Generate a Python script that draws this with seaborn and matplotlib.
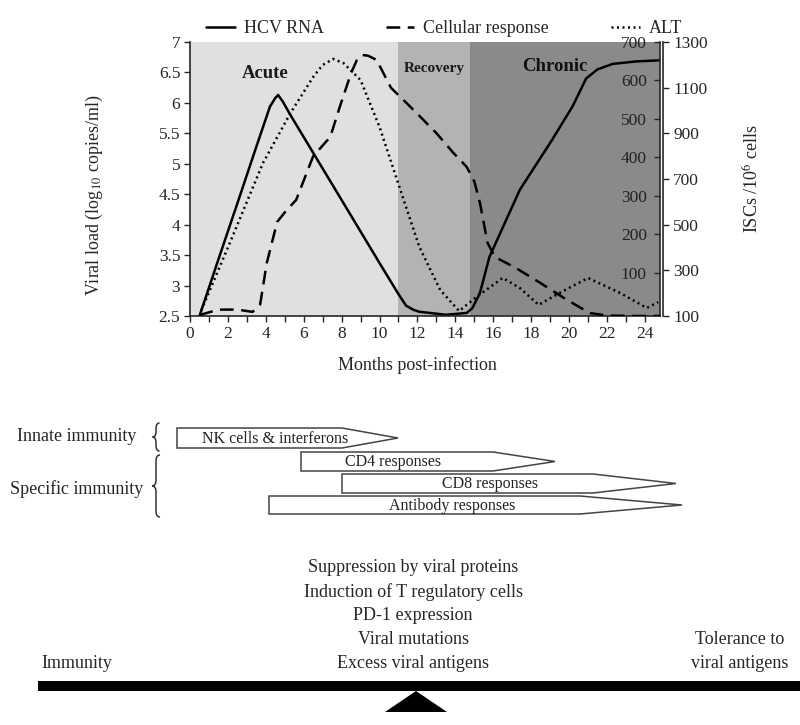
import matplotlib
matplotlib.use("Agg")
import matplotlib.pyplot as plt
from matplotlib.patches import Polygon, Rectangle, PathPatch
from matplotlib.path import Path
from matplotlib.ticker import MultipleLocator
import seaborn as sns

# ---- 数据 ----
# HCV RNA, 左轴 log10 copies/ml
hcv_months = [0.5, 1.5, 2.5, 3.5, 4.22, 4.5, 4.65, 4.9, 5.3, 6.5, 8.3, 10.0, 11.0, 11.4,
              11.8, 12.1, 13.5, 14.6, 14.9, 15.3, 15.8, 17.4, 19.1, 20.2, 20.9, 21.5,
              22.3, 23.5, 24.8]
hcv_load = [2.5, 3.43, 4.35, 5.28, 5.94, 6.08, 6.13, 6.02, 5.80, 5.18, 4.25, 3.37, 2.86, 2.67,
            2.60, 2.57, 2.52, 2.55, 2.63, 2.88, 3.47, 4.57, 5.39, 5.95, 6.40, 6.55,
            6.64, 6.68, 6.70]

# Cellular response, 外侧右轴 ISCs /10^6 cells
cell_months = [0.5, 1.5, 2.5, 3.3, 3.7, 4.05, 4.6, 5.1, 5.6, 6.5, 7.4, 7.9, 8.5,
               8.8, 9.1, 9.4, 9.85, 10.6, 11.8, 13.0, 13.9, 14.6, 15.0, 15.3, 15.7,
               16.1, 17.2, 18.5, 19.9, 21.1, 22.0, 23.5, 24.8]
cell_iscs = [104, 128, 128, 118, 150, 332, 512, 564, 608, 800, 884, 1015, 1164,
             1220, 1243, 1240, 1221, 1100, 1002, 901, 814, 753, 690, 595, 420,
             358, 310, 244, 170, 113, 102, 100, 100]

# ALT, 内侧右轴
alt_months = [0.6, 2.1, 3.85, 5.3, 6.5, 7.0, 7.55, 8.1, 9.0, 10.0, 11.1, 12.1, 13.2,
              14.2, 15.1, 16.5, 17.4, 18.4, 19.5, 21.0, 22.7, 24.1, 24.7]
alt_level = [2, 177, 385, 515, 609, 640, 656, 645, 601, 479, 315, 167, 55,
             0, 36, 86, 60, 16, 47, 86, 47, 8, 23]

phase_names = ["Acute", "Recovery", "Chronic"]
phase_start = [0, 11, 14.8]
phase_end = [11, 14.8, 24.8]
phase_colors = ["#e0e0e0", "#b3b3b3", "#8a8a8a"]

left_ticks = [2.5, 3, 3.5, 4, 4.5, 5, 5.5, 6, 6.5, 7]
left_tick_labels = ["2.5", "3", "3.5", "4", "4.5", "5", "5.5", "6", "6.5", "7"]
alt_ticks = [100, 200, 300, 400, 500, 600, 700]
iscs_ticks = [100, 300, 500, 700, 900, 1100, 1300]
month_ticks = list(range(0, 25, 2))

# 免疫反应箭头 (示意图坐标, 像素)
immune_labels = ["NK cells & interferons", "CD4 responses", "CD8 responses", "Antibody responses"]
arrow_start = [177, 301, 342, 269]
arrow_body_end = [342, 493, 593, 580]
arrow_tip = [398, 555, 676, 682]
row_top = [428, 452, 474, 496]
row_bottom = [448, 471, 493, 514]
label_x = [275, 393, 490, 452]

factors = ["Suppression by viral proteins", "Induction of T regulatory cells",
           "PD-1 expression", "Viral mutations", "Excess viral antigens"]

# ---- 样式 ----
sns.set_theme(style="ticks")
plt.rcParams["font.family"] = ["Liberation Serif", "DejaVu Serif"]
plt.rcParams["mathtext.fontset"] = "stix"
plt.rcParams["axes.linewidth"] = 1.2

fig = plt.figure(figsize=(8, 7.25), dpi=100)
W, H = 800, 725
ax = fig.add_axes([190 / W, 1 - 316 / H, 470 / W, 274 / H])
ax2 = ax.twinx()
ax3 = ax.twinx()

# 背景阶段
for name, s, e, c in zip(phase_names, phase_start, phase_end, phase_colors):
    ax.axvspan(s, e, color=c, lw=0, zorder=0)
ax.text(3.95, 6.49, "Acute", ha="center", va="center", fontsize=13.5, fontweight="bold", color="#1a1a1a")
ax.text(12.9, 6.56, "Recovery", ha="center", va="center", fontsize=11, fontweight="bold", color="#1a1a1a")
ax.text(19.25, 6.6, "Chronic", ha="center", va="center", fontsize=13.5, fontweight="bold", color="#111111")

sns.lineplot(x=hcv_months, y=hcv_load, ax=ax, color="black", lw=1.8, label="HCV RNA")
sns.lineplot(x=cell_months, y=cell_iscs, ax=ax3, color="black", lw=1.8,
             linestyle=(0, (5.5, 3)), label="Cellular response")
sns.lineplot(x=alt_months, y=alt_level, ax=ax2, color="black", lw=1.8,
             linestyle=(0, (0.8, 1.4)), label="ALT")

handles, labels = [], []
for a in (ax, ax3, ax2):
    h, l = a.get_legend_handles_labels()
    handles += h
    labels += l
    if a.get_legend() is not None:
        a.get_legend().remove()

fig.legend(handles, labels, loc="upper left", bbox_to_anchor=(190 / W, 1 - 4 / H),
           ncol=3, frameon=False, fontsize=13, handlelength=1.6,
           handletextpad=0.5, columnspacing=3.4)

# 左轴
ax.set_xlim(0, 24.8)
ax.set_ylim(2.5, 7)
ax.set_xticks(month_ticks)
ax.xaxis.set_minor_locator(MultipleLocator(1))
ax.set_yticks(left_ticks)
ax.set_yticklabels(left_tick_labels)
ax.tick_params(axis="both", which="both", direction="out", length=4, width=1, labelsize=12.5, pad=3)
ax.set_xlabel("Months post-infection", fontsize=13)
ax.xaxis.set_label_coords(0.483, -0.145)
ax.set_ylabel("Viral load (log$_{10}$ copies/ml)", fontsize=13)
ax.yaxis.set_label_coords(-0.18, 0.44)
ax.spines["top"].set_visible(False)
ax.spines["right"].set_visible(False)

# 内侧右轴 (ALT)
ax2.set_ylim(-13, 700)
ax2.set_yticks(alt_ticks)
ax2.tick_params(axis="y", direction="in", length=4.5, width=1, labelsize=12.5, pad=-9.5)
for t in ax2.get_yticklabels():
    t.set_ha("right")
    t.set_color("#222222")
for sp in ("top", "left", "bottom"):
    ax2.spines[sp].set_visible(False)
ax2.set_ylabel("")

# 外侧右轴 (ISCs)
ax3.set_ylim(100, 1300)
ax3.set_yticks(iscs_ticks)
ax3.spines["right"].set_position(("outward", 2.5))
ax3.tick_params(axis="y", direction="out", length=4, width=1, labelsize=12.5, pad=3)
for sp in ("top", "left", "bottom"):
    ax3.spines[sp].set_visible(False)
ax3.set_ylabel("ISCs /10$^6$ cells", fontsize=13)
ax3.yaxis.set_label_coords(1.177, 0.5)

# ---- 下方示意图 ----
dg = fig.add_axes([0, 0, 1, 1], facecolor="none")
dg.set_xlim(0, W)
dg.set_ylim(H, 0)
dg.axis("off")
dg.set_zorder(-1)


def brace(x, y0, y1, w):
    ym = (y0 + y1) / 2
    r = min(6, (y1 - y0) * 0.2)
    verts = [(x + w / 2, y0), (x, y0), (x, y0 + r), (x, ym - r), (x, ym), (x - w / 2, ym),
             (x, ym), (x, ym + r), (x, y1 - r), (x, y1), (x + w / 2, y1)]
    codes = [Path.MOVETO, Path.CURVE3, Path.CURVE3, Path.LINETO, Path.CURVE3, Path.CURVE3,
             Path.CURVE3, Path.CURVE3, Path.LINETO, Path.CURVE3, Path.CURVE3]
    dg.add_patch(PathPatch(Path(verts, codes), fill=False, lw=1.1, ec="#333333"))


dg.text(77, 436, "Innate immunity", ha="center", va="center", fontsize=13)
dg.text(77, 489, "Specific immunity", ha="center", va="center", fontsize=13)
brace(156, 423, 451, 7)
brace(156, 455, 517, 8)

for lab, s, b, t, y0, y1, lx in zip(immune_labels, arrow_start, arrow_body_end,
                                    arrow_tip, row_top, row_bottom, label_x):
    ym = (y0 + y1) / 2
    dg.add_patch(Polygon([(s, y0), (b, y0), (t, ym), (b, y1), (s, y1)], closed=True,
                         fc="white", ec="#444444", lw=1.1))
    dg.text(lx, ym + 0.5, lab, ha="center", va="center", fontsize=11.5, color="#222222")

for i, f in enumerate(factors):
    dg.text(413, 568 + 24 * i, f, ha="center", va="center", fontsize=13)
dg.text(77, 664, "Immunity", ha="center", va="center", fontsize=13)
dg.text(740, 640, "Tolerance to", ha="center", va="center", fontsize=13)
dg.text(740, 664, "viral antigens", ha="center", va="center", fontsize=13)

dg.add_patch(Rectangle((38, 681), 762, 10, fc="black", ec="none"))
dg.add_patch(Polygon([(385, 712), (447, 712), (416, 691)], closed=True, fc="black", ec="none"))

fig.savefig("out.png", dpi=100)
